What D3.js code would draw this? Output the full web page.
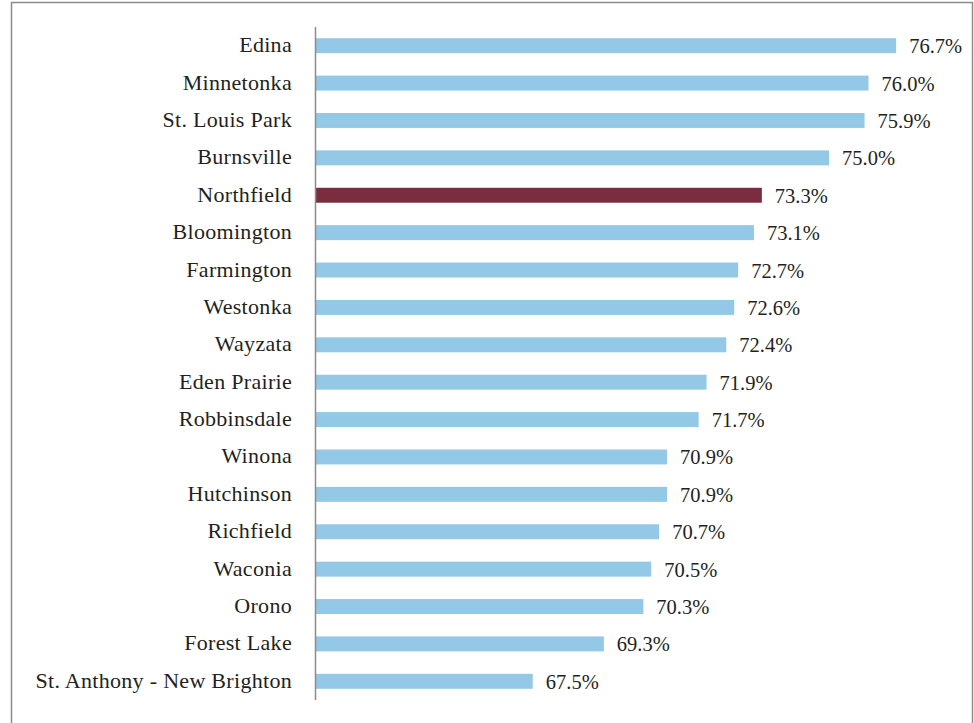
<!DOCTYPE html>
<html>
<head>
<meta charset="utf-8">
<script src="https://cdn.jsdelivr.net/npm/d3@7"></script>
<style>
  body { margin: 0; background: #fff; }
  text { font-family: "Liberation Serif", "Times New Roman", serif; fill: #231f20; }
</style>
</head>
<body>
<svg id="chart" width="974" height="723"></svg>
<script>
// districts, top to bottom
var districts = ["Edina", "Minnetonka", "St. Louis Park", "Burnsville", "Northfield",
  "Bloomington", "Farmington", "Westonka", "Wayzata", "Eden Prairie", "Robbinsdale",
  "Winona", "Hutchinson", "Richfield", "Waconia", "Orono", "Forest Lake",
  "St. Anthony - New Brighton"];
var rates = [76.7, 76.0, 75.9, 75.0, 73.3, 73.1, 72.7, 72.6, 72.4, 71.9, 71.7,
  70.9, 70.9, 70.7, 70.5, 70.3, 69.3, 67.5];
var highlight = "Northfield";

var svg = d3.select("#chart");

// frame
svg.append("rect")
    .attr("x", 11.5).attr("y", 2.5)
    .attr("width", 961).attr("height", 730)
    .attr("fill", "none")
    .attr("stroke", "#8c8c8c")
    .attr("stroke-width", 1.5);

var x = d3.scaleLinear().domain([62, 78]).range([315.5, 947.5]);
var y = d3.scaleBand().domain(districts).range([27, 700]).paddingInner(0.6).paddingOuter(0.3);

var rows = districts.map(function(d, i) { return { name: d, value: rates[i] }; });

svg.append("g")
    .selectAll("rect")
    .data(rows)
    .enter()
    .append("rect")
    .attr("x", x(62))
    .attr("y", function(d) { return y(d.name); })
    .attr("width", function(d) { return x(d.value) - x(62); })
    .attr("height", y.bandwidth())
    .attr("fill", function(d) { return d.name === highlight ? "#7b2d3f" : "#93c9e6"; });

// category labels
svg.append("g")
    .selectAll("text")
    .data(rows)
    .enter()
    .append("text")
    .attr("x", 292)
    .attr("y", function(d) { return y(d.name) + y.bandwidth() / 2 + 6.5; })
    .attr("text-anchor", "end")
    .style("font-size", "22px")
    .style("letter-spacing", "0.3px")
    .text(function(d) { return d.name; });

// value labels
svg.append("g")
    .selectAll("text")
    .data(rows)
    .enter()
    .append("text")
    .attr("x", function(d) { return x(d.value) + 13; })
    .attr("y", function(d) { return y(d.name) + y.bandwidth() / 2 + 7.5; })
    .style("font-size", "20.5px")
    .text(function(d) { return d.value.toFixed(1) + "%"; });

// axis line
svg.append("line")
    .attr("x1", 315.5).attr("x2", 315.5)
    .attr("y1", 27).attr("y2", 700)
    .attr("stroke", "#8c8c8c")
    .attr("stroke-width", 1.5);
</script>
</body>
</html>
